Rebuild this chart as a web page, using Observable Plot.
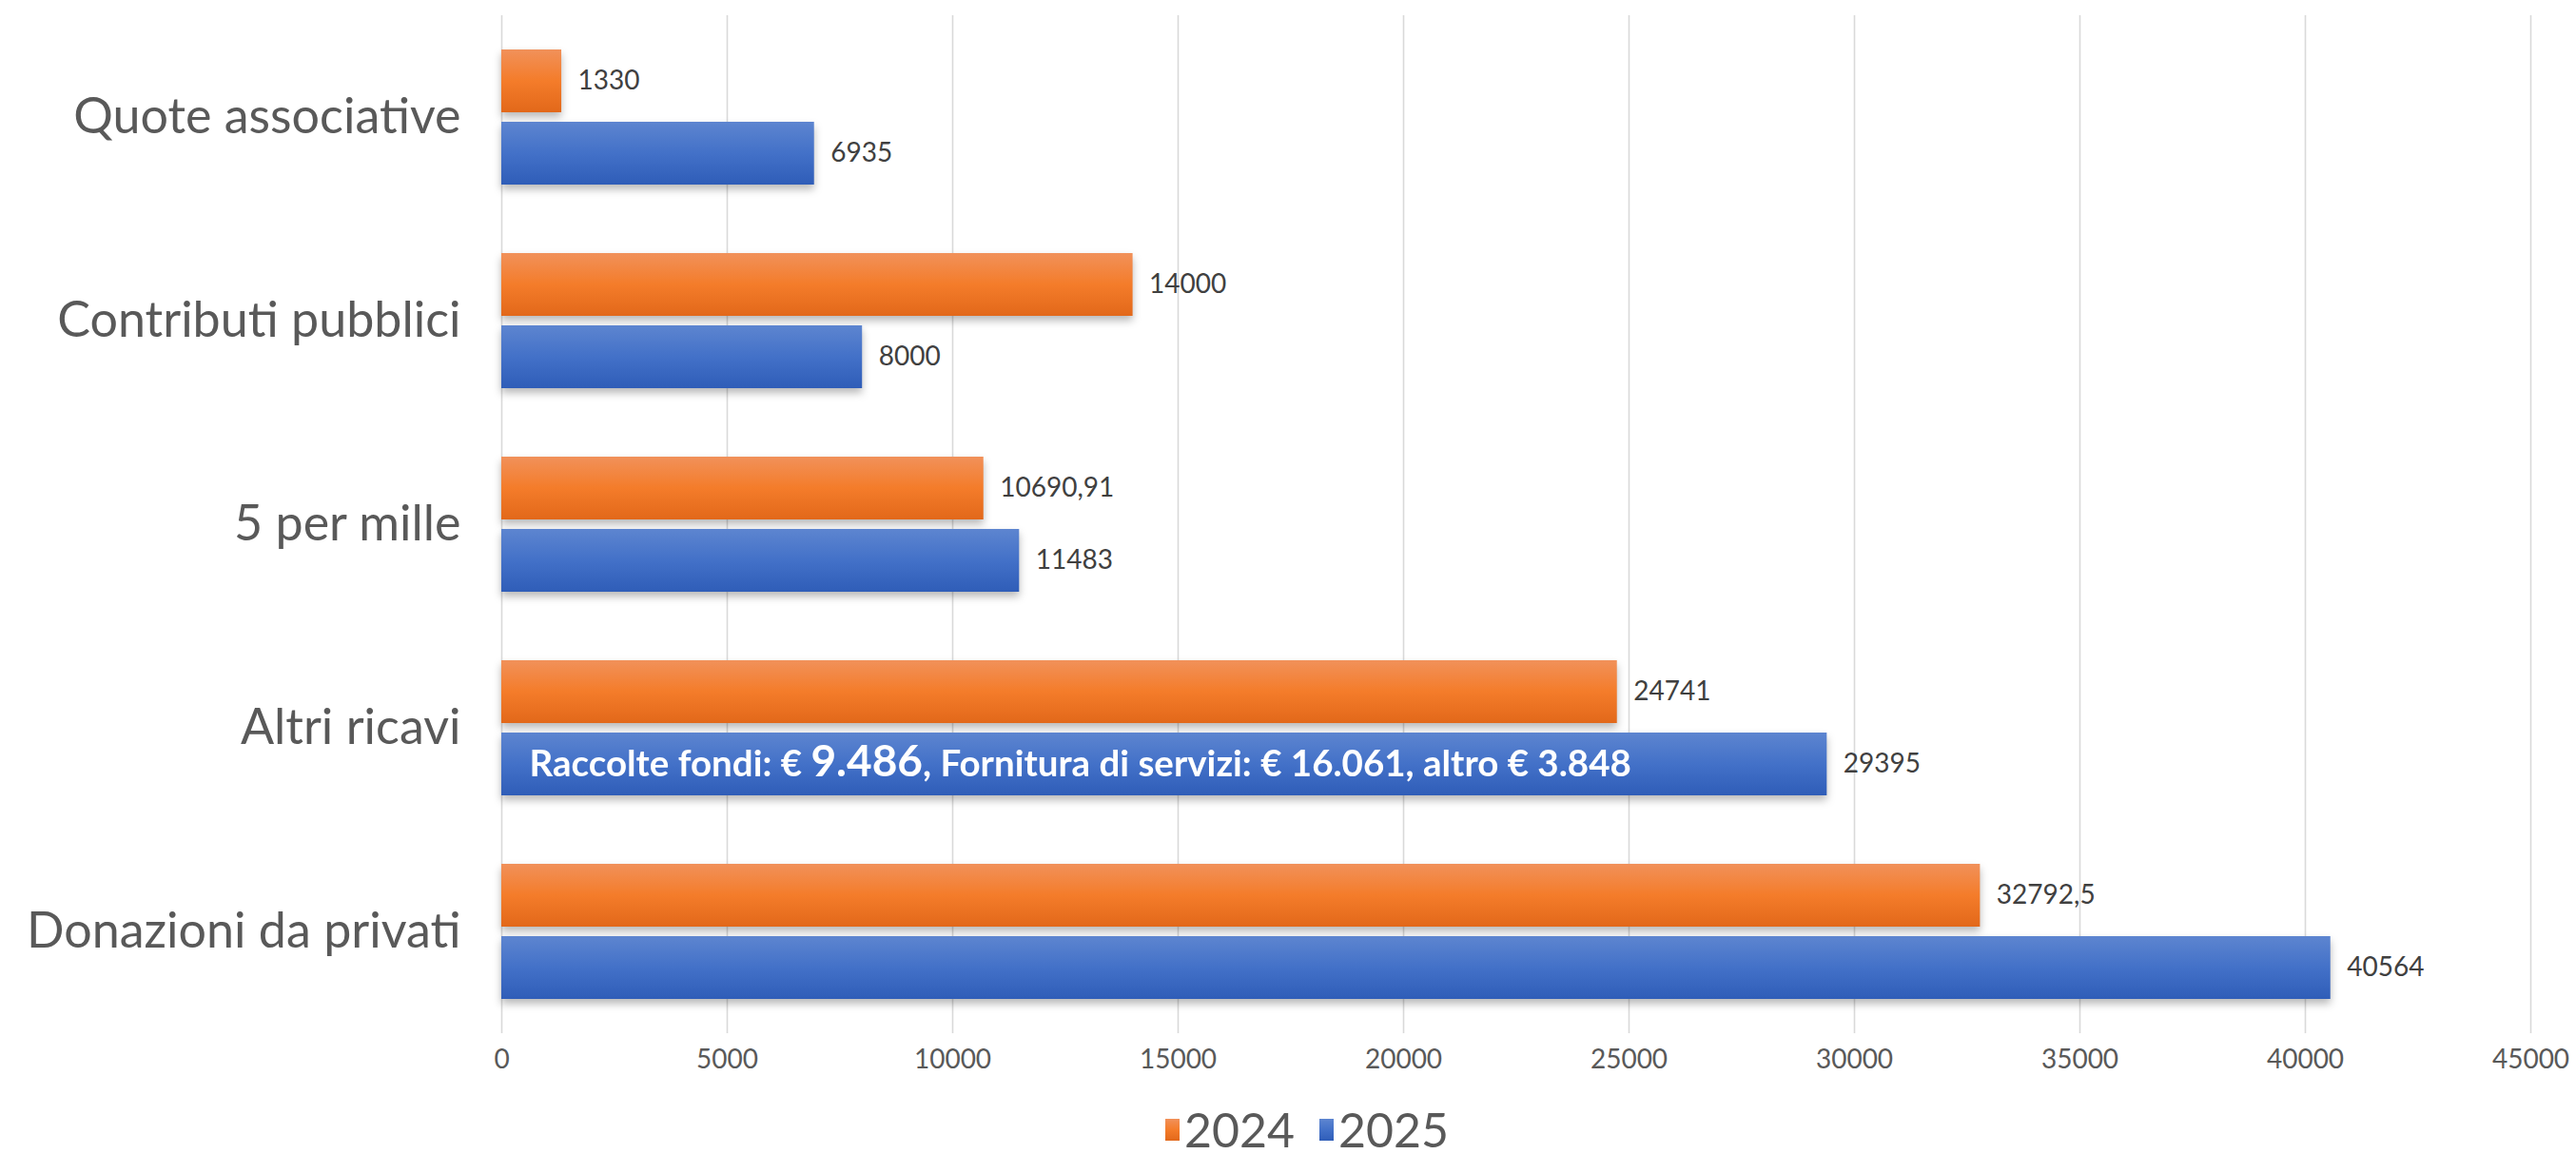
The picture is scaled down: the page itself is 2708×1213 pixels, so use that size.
<!DOCTYPE html>
<html>
<head>
<meta charset="utf-8">
<script src="https://cdn.jsdelivr.net/npm/d3@7"></script>
<script src="https://cdn.jsdelivr.net/npm/@observablehq/plot@0.6"></script>
<style>
  html, body { margin: 0; padding: 0; background: #ffffff; }
  body { width: 2708px; height: 1213px; overflow: hidden; font-family: Lato, "Open Sans", sans-serif; }
  #chart { height: 1140px; }
  #chart svg g[aria-label="bar"] { filter: drop-shadow(0px 5px 4px rgba(0,0,0,0.28)); }
  #legend { display: flex; justify-content: center; align-items: center; padding-top: 22px; padding-left: 40px; height: 50px; line-height: 50px; font-size: 50px; color: #595959; }
  #legend .item { display: flex; align-items: center; margin: 0 13px; }
  #legend .sw { width: 15px; height: 23px; margin-right: 5px; }
</style>
</head>
<body>
<div id="chart"></div>
<div id="legend"></div>
<script>
const categories = ["Quote associative", "Contributi pubblici", "5 per mille", "Altri ricavi", "Donazioni da privati"];
const years = ["2024", "2025"];
const values2024 = [1330, 14000, 10690.91, 24741, 32792.5];
const values2025 = [6935, 8000, 11483, 29395, 40564];
const xTicks = [0, 5000, 10000, 15000, 20000, 25000, 30000, 35000, 40000, 45000];
const annotationCategory = "Altri ricavi";
const annotationYear = "2025";
const annotationText = "Raccolte fondi: € 9.486, Fornitura di servizi: € 16.061, altro € 3.848";
const annotationBig = "9.486";

const gradients = {
  "2024": {id: "gradOrange", stops: ["#f1915a", "#f47c2a", "#e2681a"]},
  "2025": {id: "gradBlue", stops: ["#5d85d0", "#4371c8", "#2f5db8"]}
};

const data = categories.flatMap((c, i) => [
  {category: c, year: "2024", value: values2024[i]},
  {category: c, year: "2025", value: values2025[i]}
]);
const annotation = [{category: annotationCategory, year: annotationYear, text: annotationText}];
const fmt = v => String(v).replace(".", ",");

const plot = Plot.plot({
  width: 2708,
  height: 1140,
  marginTop: 14,
  marginBottom: 52,
  marginLeft: 527,
  marginRight: 48,
  style: {fontFamily: "Lato, 'Open Sans', sans-serif", background: "#ffffff"},
  x: {domain: [0, 45000], axis: null},
  y: {domain: years, paddingInner: 0.13, paddingOuter: 0.47, axis: null},
  fy: {domain: categories, padding: 0, axis: null},
  marks: [
    Plot.gridX({ticks: xTicks, stroke: "#d9d9d9", strokeOpacity: 1, strokeWidth: 1.6}),
    Plot.axisX({ticks: xTicks, tickSize: 0, tickPadding: 17, fontSize: 28, color: "#595959", label: null, tickFormat: d => String(d)}),
    Plot.axisFy({anchor: "left", tickSize: 0, tickPadding: 43, fontSize: 52, color: "#595959", label: null}),
    ...years.map(yr => Plot.barX(data.filter(d => d.year === yr), {
      x: "value", y: "year", fy: "category", fill: `url(#${gradients[yr].id})`
    })),
    Plot.text(data, {
      x: "value", y: "year", fy: "category", text: d => fmt(d.value),
      dx: 17, textAnchor: "start", fontSize: 28, fill: "#404040"
    }),
    Plot.text(annotation, {
      y: "year", fy: "category", frameAnchor: "left", text: "text",
      dx: 29, textAnchor: "start", fontSize: 38.5, fontWeight: "bold", fill: "#ffffff"
    })
  ]
});

// gradient definitions
const defs = d3.select(plot).insert("defs", ":first-child");
for (const yr of years) {
  const g = gradients[yr];
  const lg = defs.append("linearGradient").attr("id", g.id).attr("x1", 0).attr("y1", 0).attr("x2", 0).attr("y2", 1);
  g.stops.forEach((c, i) => lg.append("stop").attr("offset", i / (g.stops.length - 1)).attr("stop-color", c));
}

// enlarge the highlighted figure inside the annotation
d3.select(plot).selectAll("text").each(function() {
  if (this.textContent === annotationText) {
    const parts = annotationText.split(annotationBig);
    const t = d3.select(this);
    t.text(null);
    t.append("tspan").text(parts[0]);
    t.append("tspan").attr("font-size", 46).text(annotationBig);
    t.append("tspan").text(parts[1]);
  }
});

document.getElementById("chart").appendChild(plot);

// legend
const legend = d3.select("#legend");
for (const yr of years) {
  const item = legend.append("div").attr("class", "item");
  const s = gradients[yr].stops;
  item.append("div").attr("class", "sw").style("background", `linear-gradient(to bottom, ${s[0]}, ${s[1]}, ${s[2]})`);
  item.append("span").text(yr);
}
</script>
</body>
</html>
